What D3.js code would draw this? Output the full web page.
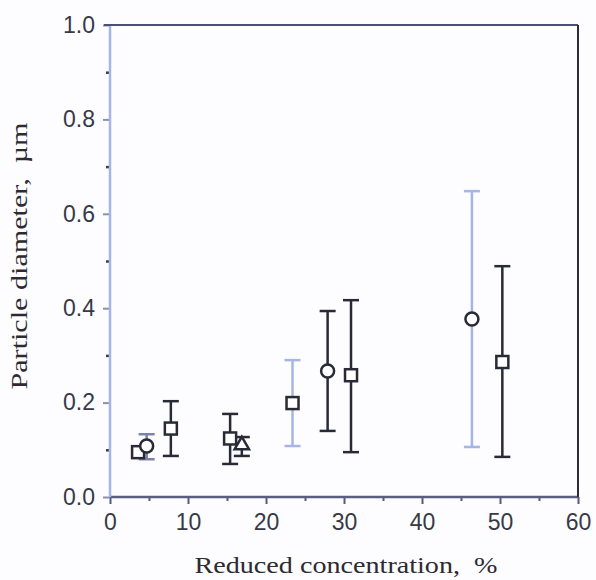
<!DOCTYPE html>
<html>
<head>
<meta charset="utf-8">
<title>particle diameter</title>
<script src="https://d3js.org/d3.v7.min.js"></script>
<style>
  body { margin: 0; background: #fdfdff; }
  .tick text { font-family: "Liberation Sans", Arial, sans-serif; font-size: 23px; fill: #383946; }
  .title { font-family: "Liberation Serif", "Times New Roman", serif; font-size: 24px; fill: #2e2a32; white-space: pre; }
</style>
</head>
<body>
<script>
// values
var xTicks = [0, 10, 20, 30, 40, 50, 60];
var yTicks = [0.0, 0.2, 0.4, 0.6, 0.8, 1.0];

var squareX  = [3.6, 7.8, 15.4, 23.4, 30.9, 50.3];
var squareY  = [0.095, 0.145, 0.124, 0.199, 0.258, 0.286];
var squareLo = [null, 0.087, 0.070, 0.108, 0.095, 0.085];
var squareHi = [null, 0.203, 0.176, 0.290, 0.417, 0.489];

var circleX  = [4.7, 27.9, 46.4];
var circleY  = [0.108, 0.267, 0.377];
var circleLo = [0.080, 0.140, 0.106];
var circleHi = [0.133, 0.394, 0.648];

var triangleX  = [16.9];
var triangleY  = [0.110];
var triangleLo = [0.087];
var triangleHi = [0.127];

var margin = {top: 25, right: 18, bottom: 83, left: 110};
var width = 596 - margin.left - margin.right;
var height = 580 - margin.top - margin.bottom;

var dark = "#2a2a36", pale = "#a6b6e4", mid = "#7d82a8";

var x = d3.scaleLinear().domain([0, 60]).range([0, width]);
var y = d3.scaleLinear().domain([0, 1]).range([height, 0]);

var svg = d3.select("body").append("svg")
    .attr("width", 596).attr("height", 580)
  .append("g")
    .attr("transform", "translate(" + margin.left + "," + margin.top + ")");

// minor ticks
svg.append("g")
    .attr("transform", "translate(0," + height + ")")
    .call(d3.axisBottom(x).tickValues([5, 15, 25, 35, 45, 55]).tickSize(4).tickFormat(""))
    .call(function(g){ g.select(".domain").remove(); g.selectAll("line").attr("stroke", "#555a78").attr("stroke-width", 2); });
svg.append("g")
    .call(d3.axisLeft(y).tickValues([0.1, 0.3, 0.5, 0.7, 0.9]).tickSize(4).tickFormat(""))
    .call(function(g){ g.select(".domain").remove(); g.selectAll("line").attr("stroke", "#3a3a4a").attr("stroke-width", 2.5); });

// major axes
svg.append("g")
    .attr("transform", "translate(0," + height + ")")
    .call(d3.axisBottom(x).tickValues(xTicks).tickSize(7).tickPadding(10).tickFormat(d3.format("d")))
    .call(function(g){
      g.select(".domain").remove();
      g.selectAll("line").attr("stroke", "#555a78").attr("stroke-width", 2);
    });
svg.append("g")
    .call(d3.axisLeft(y).tickValues(yTicks).tickSize(7).tickPadding(8).tickFormat(d3.format(".1f")))
    .call(function(g){
      g.select(".domain").remove();
      g.selectAll("line").attr("stroke", "#8a90b4").attr("stroke-width", 2);
    });

// frame
svg.append("line").attr("x1", 0).attr("x2", width).attr("y1", height).attr("y2", height)
    .attr("stroke", "#5a5f80").attr("stroke-width", 2.5);
svg.append("line").attr("x1", 0).attr("x2", 0).attr("y1", 0).attr("y2", height)
    .attr("stroke", pale).attr("stroke-width", 2.5);
svg.append("line").attr("x1", -6).attr("x2", width).attr("y1", 0).attr("y2", 0)
    .attr("stroke", "#4c5070").attr("stroke-width", 2);
svg.append("line").attr("x1", width).attr("x2", width).attr("y1", 0).attr("y2", height)
    .attr("stroke", "#2c2c36").attr("stroke-width", 2);

function series(xs, ys, lo, hi) {
  return xs.map(function(d, i){ return {x: d, y: ys[i], lo: lo[i], hi: hi[i]}; });
}
var squares = series(squareX, squareY, squareLo, squareHi);
var circles = series(circleX, circleY, circleLo, circleHi);
var triangles = series(triangleX, triangleY, triangleLo, triangleHi);

// error bar colour per point
var barColor = {
  square: [dark, dark, dark, pale, dark, dark],
  circle: [mid, dark, pale],
  triangle: [dark]
};

function errorBars(data, colors) {
  var g = svg.append("g").selectAll("g")
    .data(data.filter(function(d){ return d.lo != null; }))
    .enter().append("g")
    .attr("stroke", function(d){ return colors[data.indexOf(d)]; })
    .attr("stroke-width", 2.5);
  g.append("line")
    .attr("x1", function(d){ return x(d.x); }).attr("x2", function(d){ return x(d.x); })
    .attr("y1", function(d){ return y(d.lo); }).attr("y2", function(d){ return y(d.hi); });
  g.append("line")
    .attr("x1", function(d){ return x(d.x) - 8; }).attr("x2", function(d){ return x(d.x) + 8; })
    .attr("y1", function(d){ return y(d.lo); }).attr("y2", function(d){ return y(d.lo); });
  g.append("line")
    .attr("x1", function(d){ return x(d.x) - 8; }).attr("x2", function(d){ return x(d.x) + 8; })
    .attr("y1", function(d){ return y(d.hi); }).attr("y2", function(d){ return y(d.hi); });
}
errorBars(squares, barColor.square);
errorBars(circles, barColor.circle);
errorBars(triangles, barColor.triangle);

// markers
svg.append("g").selectAll("rect").data(squares).enter().append("rect")
    .attr("x", function(d){ return x(d.x) - 6; })
    .attr("y", function(d){ return y(d.y) - 6; })
    .attr("width", 12).attr("height", 12)
    .attr("fill", "#fff").attr("stroke", dark).attr("stroke-width", 2.5);
svg.append("g").selectAll("circle").data(circles).enter().append("circle")
    .attr("cx", function(d){ return x(d.x); })
    .attr("cy", function(d){ return y(d.y); })
    .attr("r", 6.5)
    .attr("fill", "#fff").attr("stroke", dark).attr("stroke-width", 2.5);
svg.append("g").selectAll("path").data(triangles).enter().append("path")
    .attr("d", d3.symbol().type(d3.symbolTriangle).size(90))
    .attr("transform", function(d){ return "translate(" + x(d.x) + "," + y(d.y) + ")"; })
    .attr("fill", "#fff").attr("stroke", dark).attr("stroke-width", 2.5);

// titles
svg.append("text").attr("class", "title")
    .attr("x", 236).attr("y", height + 76)
    .attr("text-anchor", "middle")
    .attr("textLength", 303).attr("lengthAdjust", "spacingAndGlyphs")
    .text("Reduced concentration,  %");
svg.append("text").attr("class", "title")
    .attr("transform", "translate(" + (27 - margin.left) + "," + (256 - margin.top) + ") rotate(-90)")
    .attr("text-anchor", "middle")
    .attr("textLength", 267).attr("lengthAdjust", "spacingAndGlyphs")
    .text("Particle diameter,  µm");
</script>
</body>
</html>
